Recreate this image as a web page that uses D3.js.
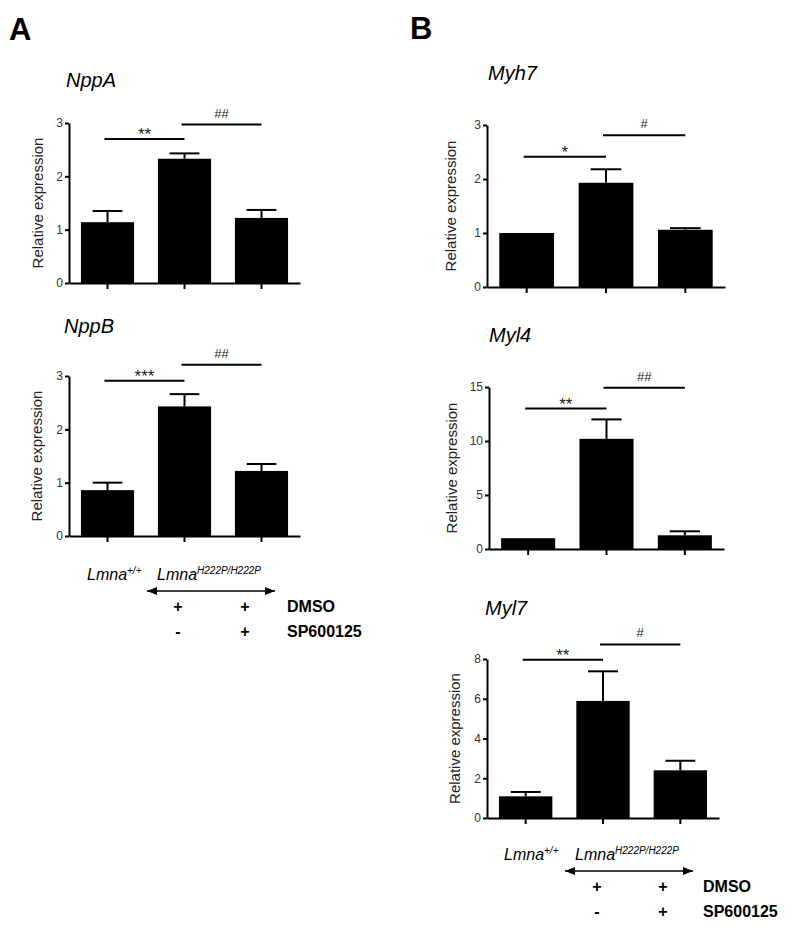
<!DOCTYPE html>
<html>
<head>
<meta charset="utf-8">
<script src="https://cdn.jsdelivr.net/npm/d3@7"></script>
<style>
  body { margin: 0; background: #fff; }
  svg { display: block; font-family: "Liberation Sans", Arial, sans-serif; }
</style>
</head>
<body>
<svg id="fig" width="800" height="933"></svg>
<script>
// groups: Lmna+/+, Lmna H222P + DMSO, Lmna H222P + DMSO + SP600125
var groups = [ "wt", "h222p_dmso", "h222p_sp" ];

var nppA = [ 1.14, 2.33, 1.22 ];
var nppAErr = [ 0.21, 0.10, 0.15 ];
var nppASig = [ { from: 0, to: 1, at: 2.70, label: "**" }, { from: 1, to: 2, at: 2.97, label: "##" } ];

var nppB = [ 0.86, 2.43, 1.22 ];
var nppBErr = [ 0.14, 0.23, 0.13 ];
var nppBSig = [ { from: 0, to: 1, at: 2.91, label: "***" }, { from: 1, to: 2, at: 3.21, label: "##" } ];

var myh7 = [ 1.00, 1.93, 1.06 ];
var myh7Err = [ 0, 0.25, 0.03 ];
var myh7Sig = [ { from: 0, to: 1, at: 2.41, label: "*" }, { from: 1, to: 2, at: 2.81, label: "#" } ];

var myl4 = [ 1.00, 10.2, 1.27 ];
var myl4Err = [ 0, 1.8, 0.37 ];
var myl4Sig = [ { from: 0, to: 1, at: 13.0, label: "**" }, { from: 1, to: 2, at: 14.94, label: "##" } ];

var myl7 = [ 1.09, 5.89, 2.40 ];
var myl7Err = [ 0.22, 1.49, 0.48 ];
var myl7Sig = [ { from: 0, to: 1, at: 7.96, label: "**" }, { from: 1, to: 2, at: 8.73, label: "#" } ];

var ticks3 = [ 0, 1, 2, 3 ];
var ticks15 = [ 0, 5, 10, 15 ];
var ticks8 = [ 0, 2, 4, 6, 8 ];

var treatments = [ "DMSO", "SP600125" ];
var treatmentSigns = [ [ "+", "+" ], [ "-", "+" ] ];

var svg = d3.select( "#fig" );

svg.append( "defs" ).append( "marker" )
    .attr( "id", "arrowhead" )
    .attr( "viewBox", "0 0 10 8" )
    .attr( "refX", 10 )
    .attr( "refY", 4 )
    .attr( "markerWidth", 10 )
    .attr( "markerHeight", 8 )
    .attr( "markerUnits", "userSpaceOnUse" )
    .attr( "orient", "auto-start-reverse" )
  .append( "path" )
    .attr( "d", "M0,0L10,4L0,8Z" )
    .attr( "fill", "#000" );

function barChart ( o ) {
    var g = svg.append( "g" );
    var x = d3.scaleBand()
        .domain( groups )
        .range( [ o.left, o.right ] )
        .paddingInner( 0.31 )
        .paddingOuter( 0.155 );
    var y = d3.scaleLinear()
        .domain( [ 0, o.max ] )
        .range( [ o.bottom, o.top ] );

    g.append( "text" )
        .attr( "x", o.titleX )
        .attr( "y", o.titleY )
        .attr( "font-size", 20 )
        .attr( "font-style", "italic" )
        .text( o.title );

    g.append( "text" )
        .attr( "transform", "translate(" + ( o.left - o.labelDx ) + "," + ( ( o.top + o.bottom ) / 2 ) + ") rotate(-90)" )
        .attr( "text-anchor", "middle" )
        .attr( "font-size", 15 )
        .attr( "fill", "#222" )
        .text( "Relative expression" );

    // bars
    g.selectAll( "rect.bar" )
        .data( o.values )
        .enter().append( "rect" )
        .attr( "class", "bar" )
        .attr( "x", function ( d, i ) { return x( groups[ i ] ) } )
        .attr( "y", function ( d ) { return y( d ) } )
        .attr( "width", x.bandwidth() )
        .attr( "height", function ( d ) { return y( 0 ) - y( d ) } )
        .attr( "fill", "#000" );

    // upper error bars only
    var capW = x.bandwidth() * 0.56;
    o.values.forEach( function ( v, i ) {
        var e = o.errors[ i ];
        if ( !e ) {
            return;
        }
        var cx = x( groups[ i ] ) + x.bandwidth() / 2;
        g.append( "line" )
            .attr( "x1", cx ).attr( "x2", cx )
            .attr( "y1", y( v ) ).attr( "y2", y( v + e ) )
            .attr( "stroke", "#000" ).attr( "stroke-width", 2 );
        g.append( "line" )
            .attr( "x1", cx - capW / 2 ).attr( "x2", cx + capW / 2 )
            .attr( "y1", y( v + e ) ).attr( "y2", y( v + e ) )
            .attr( "stroke", "#000" ).attr( "stroke-width", 2 );
    });

    // axes
    var yAxis = g.append( "g" )
        .attr( "transform", "translate(" + o.left + ",0)" )
        .call( d3.axisLeft( y ).tickValues( o.ticks ).tickFormat( d3.format( "d" ) )
            .tickSize( 4 ).tickSizeOuter( 0 ).tickPadding( 2 ) );
    var xAxis = g.append( "g" )
        .attr( "transform", "translate(0," + o.bottom + ")" )
        .call( d3.axisBottom( x ).tickSize( 6 ).tickSizeOuter( 0 ).tickFormat( "" ) );
    [ yAxis, xAxis ].forEach( function ( a ) {
        a.selectAll( "path, line" ).attr( "stroke", "#000" ).attr( "stroke-width", 2 );
        a.selectAll( "text" )
            .attr( "font-family", "Liberation Sans, Arial, sans-serif" )
            .attr( "font-size", 12 )
            .attr( "fill", "#333" );
    });

    // significance bars
    o.sig.forEach( function ( s ) {
        var x1 = x( groups[ s.from ] ) + x.bandwidth() / 2 - 3;
        var x2 = x( groups[ s.to ] ) + x.bandwidth() / 2;
        var sy = y( s.at );
        var star = s.label.indexOf( "*" ) >= 0;
        g.append( "line" )
            .attr( "x1", x1 ).attr( "x2", x2 )
            .attr( "y1", sy ).attr( "y2", sy )
            .attr( "stroke", "#000" ).attr( "stroke-width", 2 );
        g.append( "text" )
            .attr( "x", ( x1 + x2 ) / 2 )
            .attr( "y", star ? sy + 1 : sy - 7 )
            .attr( "text-anchor", "middle" )
            .attr( "font-size", star ? 17 : 13 )
            .attr( "fill", "#222" )
            .text( s.label );
    });
}

function genotypeLabels ( o ) {
    var g = svg.append( "g" );
    var t1 = g.append( "text" )
        .attr( "x", o.wtX ).attr( "y", o.y )
        .attr( "font-size", 16 ).attr( "font-style", "italic" );
    t1.append( "tspan" ).text( "Lmna" );
    t1.append( "tspan" ).attr( "font-size", 10 ).attr( "dy", -6 ).text( "+/+" );

    var t2 = g.append( "text" )
        .attr( "x", o.mutX ).attr( "y", o.y )
        .attr( "font-size", 16 ).attr( "font-style", "italic" );
    t2.append( "tspan" ).text( "Lmna" );
    t2.append( "tspan" ).attr( "font-size", 10 ).attr( "dy", -6 ).text( "H222P/H222P" );

    g.append( "line" )
        .attr( "x1", o.arrowX1 ).attr( "x2", o.arrowX2 )
        .attr( "y1", o.y + 11 ).attr( "y2", o.y + 11 )
        .attr( "stroke", "#000" ).attr( "stroke-width", 1.5 )
        .attr( "marker-start", "url(#arrowhead)" )
        .attr( "marker-end", "url(#arrowhead)" );

    treatments.forEach( function ( name, r ) {
        var ry = o.rowY + r * 25;
        treatmentSigns[ r ].forEach( function ( sign, c ) {
            g.append( "text" )
                .attr( "x", o.signX[ c ] ).attr( "y", ry )
                .attr( "text-anchor", "middle" )
                .attr( "font-size", 16 ).attr( "font-weight", "bold" )
                .text( sign );
        });
        g.append( "text" )
            .attr( "x", o.nameX ).attr( "y", ry )
            .attr( "font-size", 16 ).attr( "font-weight", "bold" )
            .text( name );
    });
}

// panel letters
svg.append( "text" ).attr( "x", 9 ).attr( "y", 40 )
    .attr( "font-size", 31 ).attr( "font-weight", "bold" ).text( "A" );
svg.append( "text" ).attr( "x", 410 ).attr( "y", 39 )
    .attr( "font-size", 31 ).attr( "font-weight", "bold" ).text( "B" );

barChart({ title: "NppA", titleX: 66, titleY: 87, left: 69, right: 300, top: 123, bottom: 283,
    max: 3, ticks: ticks3, values: nppA, errors: nppAErr, sig: nppASig, labelDx: 26 });
barChart({ title: "NppB", titleX: 64, titleY: 333, left: 69, right: 300, top: 376, bottom: 536,
    max: 3, ticks: ticks3, values: nppB, errors: nppBErr, sig: nppBSig, labelDx: 27 });
barChart({ title: "Myh7", titleX: 488, titleY: 80, left: 487, right: 725, top: 125, bottom: 287,
    max: 3, ticks: ticks3, values: myh7, errors: myh7Err, sig: myh7Sig, labelDx: 31 });
barChart({ title: "Myl4", titleX: 489, titleY: 342, left: 489, right: 724, top: 387, bottom: 549,
    max: 15, ticks: ticks15, values: myl4, errors: myl4Err, sig: myl4Sig, labelDx: 32 });
barChart({ title: "Myl7", titleX: 485, titleY: 615, left: 487, right: 719, top: 659, bottom: 818,
    max: 8, ticks: ticks8, values: myl7, errors: myl7Err, sig: myl7Sig, labelDx: 27 });

genotypeLabels({ wtX: 87, mutX: 157, y: 580, arrowX1: 147, arrowX2: 275,
    rowY: 612, signX: [ 178, 245 ], nameX: 287 });
genotypeLabels({ wtX: 504, mutX: 575, y: 860, arrowX1: 565, arrowX2: 693,
    rowY: 892, signX: [ 597, 663 ], nameX: 703 });
</script>
</body>
</html>
